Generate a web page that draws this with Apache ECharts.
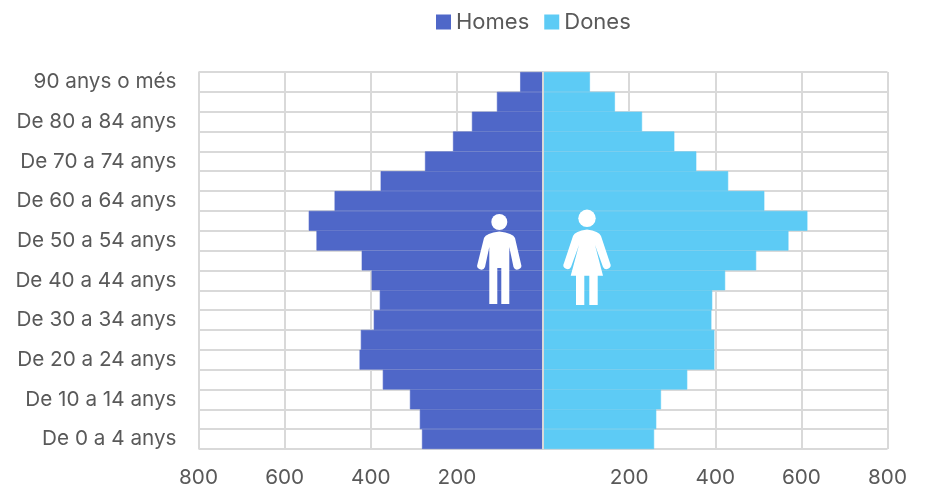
<!DOCTYPE html>
<html><head><meta charset="utf-8">
<style>html,body{margin:0;padding:0;background:#fff}#c{width:925px;height:488px}</style>
<script src="https://cdn.jsdelivr.net/npm/echarts@6/dist/echarts.min.js"></script>
</head><body><div id="c"></div>
<script>
const categories = ['De 0 a 4 anys','De 5 a 9 anys','De 10 a 14 anys','De 15 a 19 anys','De 20 a 24 anys','De 25 a 29 anys','De 30 a 34 anys','De 35 a 39 anys','De 40 a 44 anys','De 45 a 49 anys','De 50 a 54 anys','De 55 a 59 anys','De 60 a 64 anys','De 65 a 69 anys','De 70 a 74 anys','De 75 a 79 anys','De 80 a 84 anys','De 85 a 89 anys','90 anys o més'];
const homes = [281,286,309,372,426,423,393,379,398,421,526,544,484,377,274,209,165,107,53];
const dones = [258,263,274,335,398,398,391,393,423,495,570,614,514,430,356,305,230,167,109];
const FONT = 'Inter, "Open Sans", sans-serif';
const GRID = '#d9d9d9', TXT = '#595959', BLUE = '#4f67c8', SKY = '#5dcbf5';
const manBody = 'M484 238 Q486 233 499.3 231.5 Q513 233 515 238 L521 264 A4 4 0 0 1 513.5 267 L509.3 247 L509.3 304 L501.3 304 L501.3 268 L497.3 268 L497.3 304 L489.3 304 L489.3 247 L485 267 A4 4 0 0 1 477.5 264 Z';
const womanBody = 'M573 236 Q575 231 587 229.5 Q599 231 601 236 L610 263 A4 4 0 0 1 603 267 L595 245 L603 275.7 L597.7 275.7 L597.7 305 L589.3 305 L589.3 275.7 L584.3 275.7 L584.3 305 L576 305 L576 275.7 L570.7 275.7 L579 245 L571 267 A4 4 0 0 1 564 263 Z';
echarts.graphic.registerShape('manBody', echarts.graphic.extendPath(manBody, {}));
echarts.graphic.registerShape('womanBody', echarts.graphic.extendPath(womanBody, {}));
const chart = echarts.init(document.getElementById('c'), null, {renderer:'canvas'});
chart.setOption({
  animation:false,
  textStyle:{fontFamily:FONT},
  legend:{left:436,top:11,padding:0,itemWidth:15,itemHeight:15,itemGap:15,icon:'rect',
    itemStyle:{borderWidth:0},
    textStyle:{fontSize:22,color:TXT,fontFamily:FONT},
    data:['Homes','Dones']},
  grid:{left:198.5,right:37.5,top:72,bottom:39,outerBoundsMode:'none'},
  xAxis:{type:'value',min:-800,max:800,interval:200,
    axisLine:{show:false},axisTick:{show:false},
    splitLine:{show:true,lineStyle:{color:GRID,width:2}},
    axisLabel:{fontSize:20.7,color:TXT,margin:18,fontFamily:FONT,
      formatter:v=>v===0?'':String(Math.abs(v))}},
  yAxis:{type:'category',data:categories,
    axisLine:{show:false},
    axisTick:{show:false},
    splitLine:{show:true,interval:0,lineStyle:{color:GRID,width:2}},
    axisLabel:{fontSize:20.7,color:TXT,interval:1,margin:22,fontFamily:FONT}},
  series:[
    {name:'Homes',type:'bar',stack:'p',barWidth:'100%',itemStyle:{color:BLUE,borderColor:BLUE,borderWidth:0.6},data:homes.map(v=>-v)},
    {name:'Dones',type:'bar',stack:'p',barWidth:'100%',itemStyle:{color:SKY,borderColor:SKY,borderWidth:0.6},data:dones,
     markLine:{silent:true,symbol:'none',label:{show:false},z:6,
       lineStyle:{color:GRID,width:2,type:'solid'},data:[{xAxis:0}]}}
  ],
  graphic:[
    {type:'circle',z:10,shape:{cx:499.3,cy:222,r:8},style:{fill:'#fff'}},
    {type:'manBody',z:10,style:{fill:'#fff'}},
    {type:'circle',z:10,shape:{cx:587,cy:218.3,r:8.7},style:{fill:'#fff'}},
    {type:'womanBody',z:10,style:{fill:'#fff'}}
  ]
});
</script></body></html>
